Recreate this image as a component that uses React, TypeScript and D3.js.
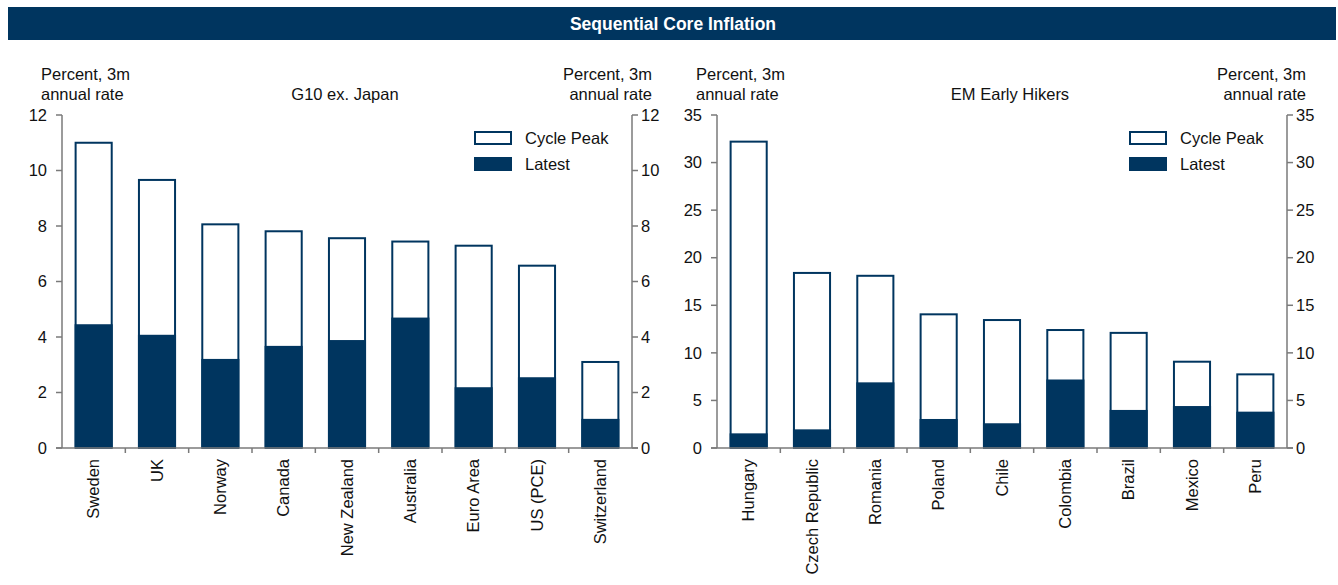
import React from "react";
import * as d3 from "d3";

const TITLE = "Sequential Core Inflation";
const AXIS_TITLE = ["Percent, 3m", "annual rate"];
const SERIES = ["Cycle Peak", "Latest"];

const g10Countries = ["Sweden", "UK", "Norway", "Canada", "New Zealand", "Australia", "Euro Area", "US (PCE)", "Switzerland"];
const g10Peak = [11.0, 9.66, 8.06, 7.81, 7.56, 7.44, 7.29, 6.57, 3.1];
const g10Latest = [4.46, 4.08, 3.21, 3.68, 3.89, 4.7, 2.19, 2.55, 1.05];
const g10Ticks = [0, 2, 4, 6, 8, 10, 12];

const emCountries = ["Hungary", "Czech Republic", "Romania", "Poland", "Chile", "Colombia", "Brazil", "Mexico", "Peru"];
const emPeak = [32.2, 18.4, 18.1, 14.05, 13.45, 12.4, 12.1, 9.07, 7.74];
const emLatest = [1.54, 1.96, 6.9, 3.05, 2.6, 7.2, 4.0, 4.41, 3.82];
const emTicks = [0, 5, 10, 15, 20, 25, 30, 35];

const NAVY = "#00355f";
const AXIS = "#7a7a7a";
const FONT = "'Liberation Sans', Arial, sans-serif";
const FS = 16.5;

type PanelProps = {
  x0: number;
  x1: number;
  subtitle: string;
  subtitleX: number;
  cats: string[];
  peak: number[];
  latest: number[];
  ticks: number[];
  ymax: number;
  leftTitleX: number;
  rightTitleX: number;
  legendX: number;
};

function Panel(p: PanelProps) {
  const y0 = 448;
  const yTop = 115;
  const x = d3.scaleBand<string>().domain(p.cats).range([p.x0, p.x1]).paddingInner(0.43).paddingOuter(0.215);
  const y = d3.scaleLinear().domain([0, p.ymax]).range([y0, yTop]);
  const band = d3.scaleBand<string>().domain(p.cats).range([p.x0, p.x1]);
  const boundaries = d3.range(1, p.cats.length).map((i) => p.x0 + i * band.step());
  return (
    <g fontFamily={FONT}>
      {/* axis titles */}
      <text x={p.leftTitleX} y={80} fontSize={FS} fill="#111">{AXIS_TITLE[0]}</text>
      <text x={p.leftTitleX} y={100} fontSize={FS} fill="#111">{AXIS_TITLE[1]}</text>
      <text x={p.rightTitleX} y={80} fontSize={FS} fill="#111" textAnchor="end">{AXIS_TITLE[0]}</text>
      <text x={p.rightTitleX} y={100} fontSize={FS} fill="#111" textAnchor="end">{AXIS_TITLE[1]}</text>
      <text x={p.subtitleX} y={100} fontSize={FS} fill="#111" textAnchor="middle">{p.subtitle}</text>

      {/* bars */}
      {p.cats.map((c, i) => (
        <g key={c}>
          <rect x={x(c)!} y={y(p.peak[i])} width={x.bandwidth()} height={y0 - y(p.peak[i])} fill="#fff" stroke={NAVY} strokeWidth={2} />
          <rect x={x(c)! - 1} y={y(p.latest[i])} width={x.bandwidth() + 2} height={y0 - y(p.latest[i])} fill={NAVY} />
        </g>
      ))}

      {/* left axis */}
      <line x1={p.x0} x2={p.x0} y1={yTop} y2={y0} stroke={AXIS} strokeWidth={1.5} />
      {p.ticks.map((t) => (
        <g key={"l" + t}>
          <line x1={p.x0 - 6} x2={p.x0} y1={y(t)} y2={y(t)} stroke={AXIS} strokeWidth={1.5} />
          <text x={p.x0 - 15} y={y(t)} dy="0.35em" fontSize={FS} textAnchor="end" fill="#111">{t}</text>
        </g>
      ))}
      {/* right axis */}
      <line x1={p.x1} x2={p.x1} y1={yTop} y2={y0} stroke={AXIS} strokeWidth={1.5} />
      {p.ticks.map((t) => (
        <g key={"r" + t}>
          <line x1={p.x1} x2={p.x1 + 6} y1={y(t)} y2={y(t)} stroke={AXIS} strokeWidth={1.5} />
          <text x={p.x1 + 9} y={y(t)} dy="0.35em" fontSize={FS} textAnchor="start" fill="#111">{t}</text>
        </g>
      ))}
      {/* x axis */}
      <line x1={p.x0 - 6} x2={p.x1 + 6} y1={y0} y2={y0} stroke={AXIS} strokeWidth={1.5} />
      {boundaries.map((b, i) => (
        <line key={"b" + i} x1={b} x2={b} y1={y0} y2={y0 + 5} stroke={AXIS} strokeWidth={1.5} />
      ))}
      {p.cats.map((c) => {
        const cx = band(c)! + band.bandwidth() / 2;
        return (
          <text key={"t" + c} transform={`translate(${cx},${y0 + 11}) rotate(-90)`} dy="0.35em" fontSize={FS} textAnchor="end" fill="#111">{c}</text>
        );
      })}

      {/* legend */}
      <rect x={p.legendX} y={132} width={36} height={12} fill="#fff" stroke={NAVY} strokeWidth={2} />
      <text x={p.legendX + 50} y={138} dy="0.35em" fontSize={FS} fill="#111">{SERIES[0]}</text>
      <rect x={p.legendX - 1} y={157} width={38} height={14} fill={NAVY} />
      <text x={p.legendX + 50} y={164} dy="0.35em" fontSize={FS} fill="#111">{SERIES[1]}</text>
    </g>
  );
}

export default function App() {
  return (
    <svg width={1338} height={585} style={{ position: "absolute", left: 0, top: 0, background: "#fff" }}>
      <rect x={8} y={7} width={1328} height={33} fill={NAVY} />
      <text x={673} y={24} dy="0.35em" textAnchor="middle" fill="#fff" fontSize={17.5} fontWeight="bold" fontFamily={FONT}>{TITLE}</text>
      <Panel x0={62} x1={632} subtitle="G10 ex. Japan" subtitleX={345} cats={g10Countries} peak={g10Peak} latest={g10Latest} ticks={g10Ticks} ymax={12} leftTitleX={41} rightTitleX={652} legendX={475} />
      <Panel x0={717} x1={1287} subtitle="EM Early Hikers" subtitleX={1010} cats={emCountries} peak={emPeak} latest={emLatest} ticks={emTicks} ymax={35} leftTitleX={696} rightTitleX={1306} legendX={1130} />
    </svg>
  );
}
